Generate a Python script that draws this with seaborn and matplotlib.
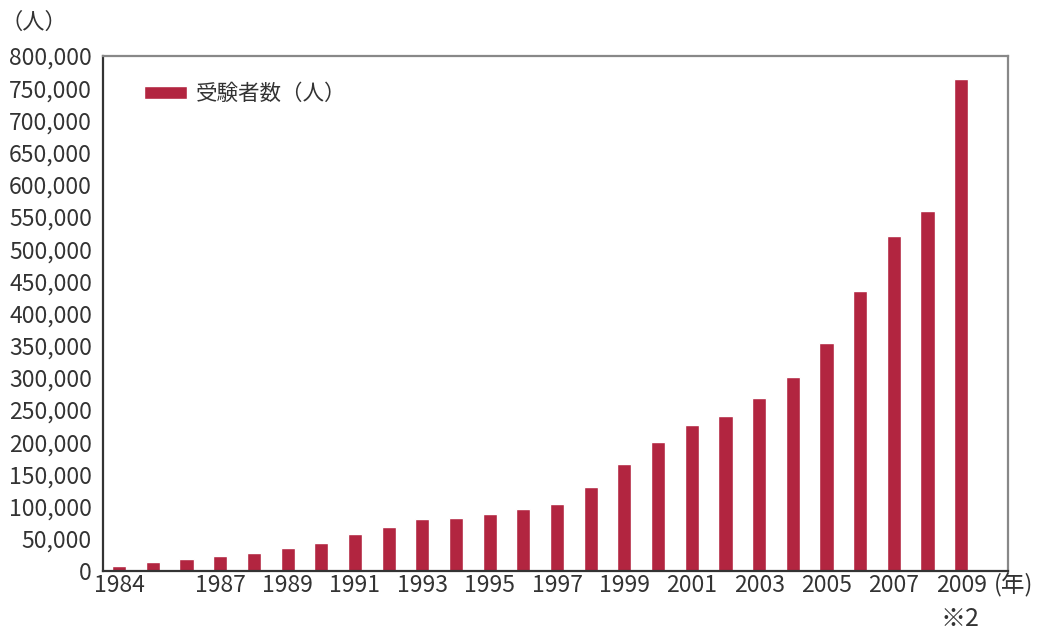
import numpy as np
import pandas as pd
import matplotlib
matplotlib.use("Agg")
import matplotlib.pyplot as plt
import seaborn as sns

# Data
years = list(range(1984, 2010))
examinees = [8000, 14000, 19000, 23000, 28000, 36000, 43000, 58000, 69000, 80000,
             83000, 89000, 96000, 104000, 130000, 166000, 200000, 227000, 241000, 268000,
             301000, 354000, 435000, 521000, 559000, 764000]
label_years = [1984, 1987, 1989, 1991, 1993, 1995, 1997, 1999, 2001, 2003, 2005, 2007, 2009]
y_ticks = list(range(0, 800001, 50000))

BAR_COLOR = "#b22540"
TEXT_COLOR = "#333333"

sns.set_style("white")
plt.rcParams['font.family'] = ['Noto Sans CJK JP', 'DejaVu Sans']

df = pd.DataFrame({"year": [str(y) for y in years], "count": examinees})

fig = plt.figure(figsize=(10.45, 6.33), dpi=100)
ax = fig.add_axes([0.0986, 0.098, 0.866, 0.8135])

sns.barplot(data=df, x="year", y="count", order=df["year"], color=BAR_COLOR,
            width=0.42, saturation=1, label="受験者数（人）", ax=ax)

ax.set_xlim(-0.48, 26.39)
ax.set_ylim(0, 800000)
ax.set_yticks(y_ticks)
ax.set_yticklabels([f"{v:,}" for v in y_ticks], fontsize=16.5, color=TEXT_COLOR)
ax.tick_params(axis="y", length=0, pad=8)

# only some years get a label; small inward ticks sit between bars
pos = [years.index(y) for y in label_years]
ax.set_xticks(pos)
ax.set_xticklabels([str(y) for y in label_years], fontsize=16.5, color=TEXT_COLOR)
ax.set_xticks(np.arange(0.5, 25, 1), minor=True)
ax.tick_params(axis="x", which="major", length=0, pad=2)
ax.tick_params(axis="x", which="minor", direction="in", length=4, width=1.2, color="#333333")
ax.set_xlabel("")
ax.set_ylabel("")

for side in ["left", "bottom"]:
    ax.spines[side].set_color("#333333")
    ax.spines[side].set_linewidth(1.6)
for side in ["top", "right"]:
    ax.spines[side].set_color("#888888")
    ax.spines[side].set_linewidth(1.6)

ax.legend(loc="upper left", bbox_to_anchor=(0.024, 0.985), frameon=False, fontsize=15.5,
          handlelength=2.0, handleheight=0.6, handletextpad=0.4, labelcolor=TEXT_COLOR)

fig.text(0.0, 0.965, "（人）", fontsize=16, color=TEXT_COLOR, ha="left", va="center")
fig.text(0.951, 0.075, "(年)", fontsize=17, color=TEXT_COLOR, ha="left", va="center")
fig.text(0.919, 0.022, "※2", fontsize=18, color=TEXT_COLOR, ha="center", va="center")

fig.savefig("out.png", dpi=100)
